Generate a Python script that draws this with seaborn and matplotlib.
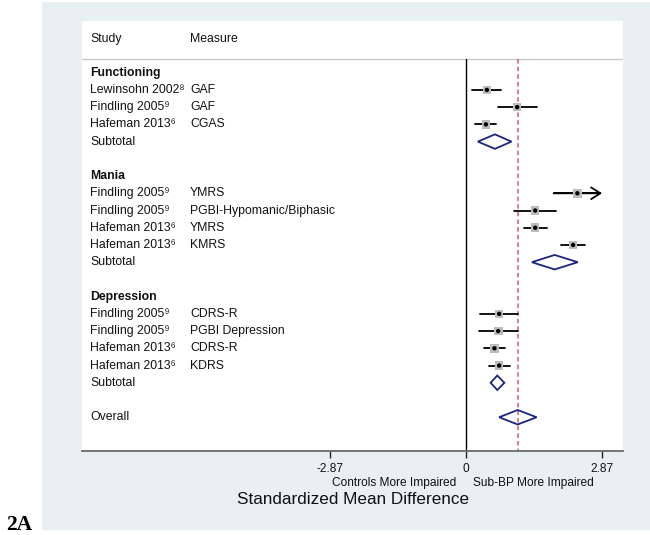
import matplotlib
matplotlib.use("Agg")
import matplotlib.pyplot as plt
from matplotlib.patches import Rectangle, Polygon, FancyArrowPatch
import seaborn as sns
import pandas as pd

# ---------------- data ----------------
group_names = ["Functioning", "Mania", "Depression"]

fn_study = ["Lewinsohn 2002\u2078", "Findling 2005\u2079", "Hafeman 2013\u2076"]
fn_measure = ["GAF", "GAF", "CGAS"]
fn_smd = [0.44, 1.08, 0.42]
fn_lo = [0.13, 0.67, 0.19]
fn_hi = [0.74, 1.50, 0.64]
fn_sub = [0.61, 0.25, 0.96]  # estimate, lower, upper

mania_study = ["Findling 2005\u2079", "Findling 2005\u2079", "Hafeman 2013\u2076", "Hafeman 2013\u2076"]
mania_measure = ["YMRS", "PGBI-Hypomanic/Biphasic", "YMRS", "KMRS"]
mania_smd = [2.35, 1.46, 1.46, 2.26]
mania_lo = [1.85, 1.01, 1.23, 2.01]
mania_hi = [3.30, 1.89, 1.70, 2.52]
mania_sub = [1.87, 1.39, 2.36]

dep_study = ["Findling 2005\u2079", "Findling 2005\u2079", "Hafeman 2013\u2076", "Hafeman 2013\u2076"]
dep_measure = ["CDRS-R", "PGBI Depression", "CDRS-R", "KDRS"]
dep_smd = [0.70, 0.68, 0.60, 0.70]
dep_lo = [0.30, 0.28, 0.37, 0.48]
dep_hi = [1.09, 1.09, 0.82, 0.93]
dep_sub = [0.66, 0.52, 0.81]

overall = [1.09, 0.70, 1.49]

x_ticks = [-2.87, 0, 2.87]
x_ticklabels = ["-2.87", "0", "2.87"]

# ---------------- style ----------------
sns.set_theme(style="white")
plt.rcParams["font.family"] = ["Liberation Sans", "DejaVu Sans"]

BG = "#e8f0f3"
NAVY = "#1b2580"
RED = "#c46570"
FS = 8.8

W, H = 650, 535
fig = plt.figure(figsize=(W / 100, H / 100), dpi=100)
fig.patch.set_facecolor("white")
fig.patches.append(Rectangle((42 / W, 1 - 530 / H), (650 - 42) / W, (530 - 2) / H,
                             transform=fig.transFigure, facecolor=BG,
                             edgecolor="none", zorder=-10))
ax = fig.add_axes([82 / W, 1 - 451 / H, (623 - 82) / W, (451 - 21) / H])
ax.set_facecolor("white")

xmin = (82 - 466) / 47.39
xmax = (623 - 466) / 47.39
ytop, ybot = -3.0, 21.96
ax.set_xlim(xmin, xmax)
ax.set_ylim(ybot, ytop)

# build table of rows
groups = [
    (group_names[0], fn_study, fn_measure, fn_smd, fn_lo, fn_hi, fn_sub),
    (group_names[1], mania_study, mania_measure, mania_smd, mania_lo, mania_hi, mania_sub),
    (group_names[2], dep_study, dep_measure, dep_smd, dep_lo, dep_hi, dep_sub),
]
rows = []
subs = []
heads = []
r = 0
for name, st, me, est, lo, hi, sub in groups:
    heads.append((name, r))
    r += 1
    for s, m, e, l, h in zip(st, me, est, lo, hi):
        rows.append(dict(study=s, measure=m, smd=e, lo=l, hi=h, row=r))
        r += 1
    subs.append(("Subtotal", sub, r))
    r += 2
subs.append(("Overall", overall, r))
df = pd.DataFrame(rows)

sep_y = -0.795
# reference lines
ax.plot([0, 0], [sep_y, ybot], color="black", lw=1.0, zorder=2)
ax.plot([overall[0], overall[0]], [sep_y, ybot], color=RED, lw=1.1,
        ls=(0, (3, 2)), zorder=2)
ax.plot([xmin, xmax], [sep_y, sep_y], color="#c9c9c9", lw=1.0, zorder=1)

# confidence intervals
for _, d in df.iterrows():
    if d.hi > x_ticks[-1]:
        ax.plot([d.lo, x_ticks[-1] - 0.05], [d.row, d.row], color="black", lw=1.3, zorder=3)
        arr = FancyArrowPatch((d.lo, d.row), (x_ticks[-1], d.row),
                              arrowstyle="->,head_length=0.55,head_width=0.35",
                              mutation_scale=12, color="black", lw=1.3, zorder=3,
                              shrinkA=0, shrinkB=0)
        ax.add_patch(arr)
    else:
        ax.plot([d.lo, d.hi], [d.row, d.row], color="black", lw=1.3, zorder=3)

# weight boxes and point estimates
sns.scatterplot(data=df, x="smd", y="row", marker="s", s=38, color="#bdbdbd",
                edgecolor="none", ax=ax, zorder=4, legend=False)
sns.scatterplot(data=df, x="smd", y="row", marker="o", s=10, color="black",
                edgecolor="none", ax=ax, zorder=5, legend=False)

# diamonds
hh = 0.42
for lab, (e, l, h), y in subs:
    ax.add_patch(Polygon([(l, y), (e, y - hh), (h, y), (e, y + hh)], closed=True,
                         fill=False, edgecolor=NAVY, lw=1.3, zorder=4))

# text columns
xs, xm = 8 / 541, 108 / 541
tr = ax.get_yaxis_transform()
ax.text(xs, -1.96, "Study", transform=tr, va="center", ha="left", fontsize=FS, color="#111111")
ax.text(xm, -1.96, "Measure", transform=tr, va="center", ha="left", fontsize=FS, color="#111111")
for name, y in heads:
    ax.text(xs, y, name, transform=tr, va="center", ha="left", fontsize=FS,
            fontweight="bold", color="#111111")
for _, d in df.iterrows():
    ax.text(xs, d.row, d.study, transform=tr, va="center", ha="left", fontsize=FS, color="#111111")
    ax.text(xm, d.row, d.measure, transform=tr, va="center", ha="left", fontsize=FS, color="#111111")
for lab, _, y in subs:
    ax.text(xs, y, lab, transform=tr, va="center", ha="left", fontsize=FS, color="#111111")

# axes
for sp in ["top", "left", "right"]:
    ax.spines[sp].set_visible(False)
ax.spines["bottom"].set_color("#6b6b6b")
ax.spines["bottom"].set_linewidth(1.3)
ax.set_yticks([])
ax.set_xticks(x_ticks)
ax.set_xticklabels(x_ticklabels)
ax.tick_params(axis="x", bottom=True, direction="out", length=5, width=1.0,
               color="#222222", labelsize=8.6, pad=4, labelcolor="#111111")
ax.set_xlabel("")
ax.set_ylabel("")

# annotations under axis
fig.text(456 / W, 1 - 483 / H, "Controls More Impaired", ha="right", va="center",
         fontsize=8.6, color="#111111")
fig.text(473 / W, 1 - 483 / H, "Sub-BP More Impaired", ha="left", va="center",
         fontsize=8.6, color="#111111")
fig.text(353.5 / W, 1 - 499 / H, "Standardized Mean Difference", ha="center", va="center",
         fontsize=12.3, color="#111111")
fig.text(6 / W, 1 - 530 / H, "2A", ha="left", va="baseline", fontsize=15.5,
         fontweight="bold", family=["Liberation Serif", "DejaVu Serif"], color="black")

fig.savefig("out.png", dpi=100, facecolor="white")
